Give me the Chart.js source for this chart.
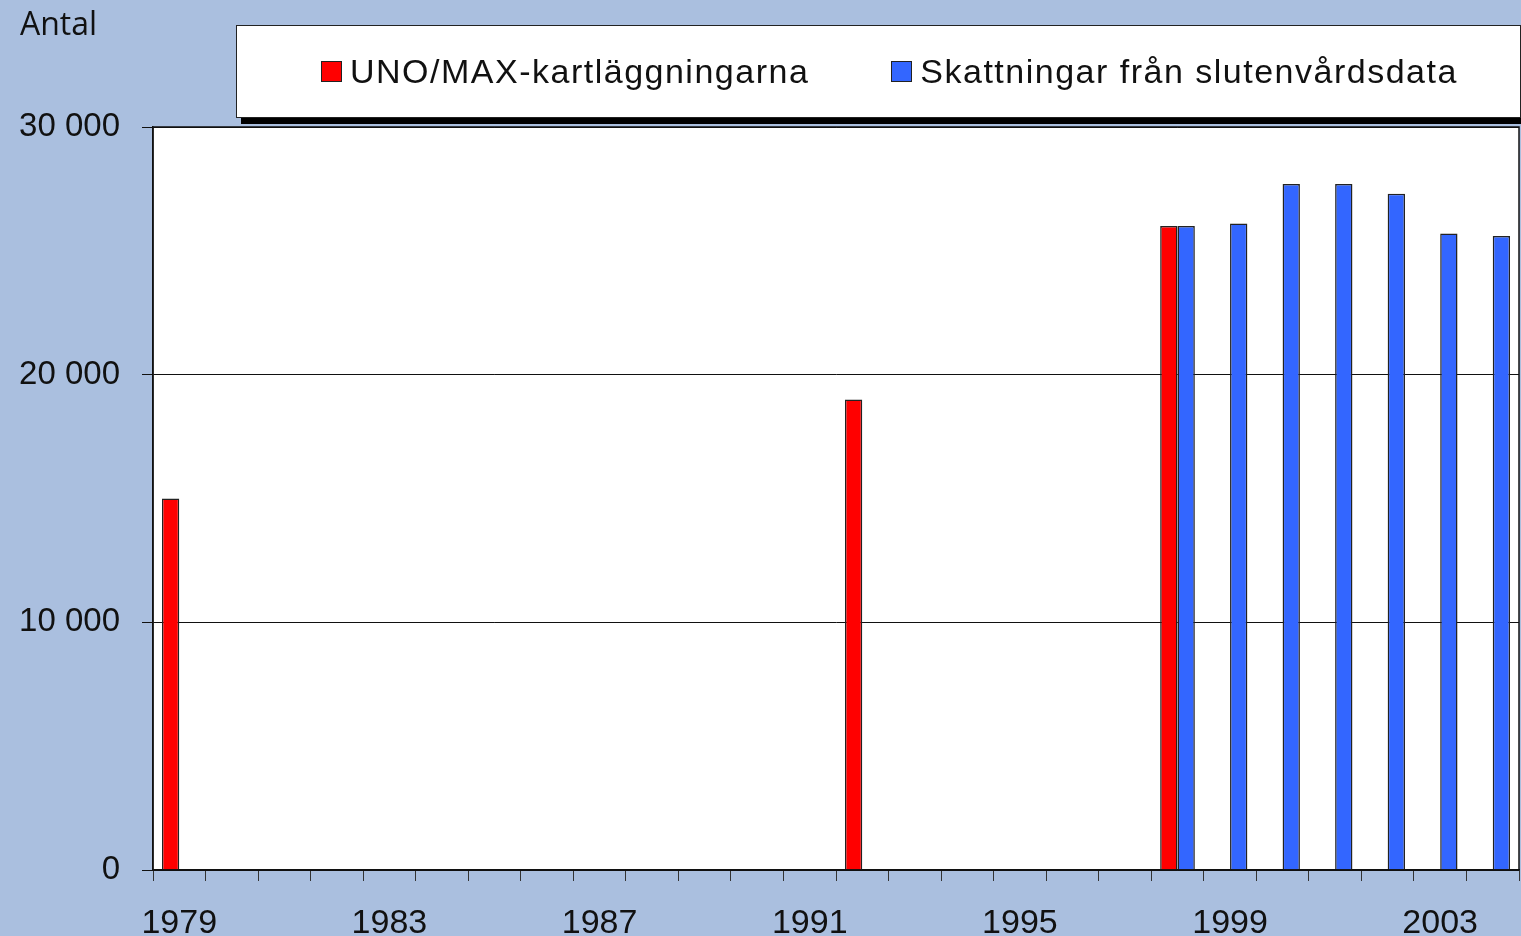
<!DOCTYPE html>
<html>
<head>
<meta charset="utf-8">
<script src="https://cdn.jsdelivr.net/npm/chart.js@4.4.1/dist/chart.umd.min.js"></script>
<style>
  html, body { margin: 0; padding: 0; background: #aabfdf; }
  #wrap { position: relative; width: 1521px; height: 936px; overflow: hidden; }
  #antal { position: absolute; left: 20px; top: 1px; font: 32px "Open Sans", sans-serif; color: #111; }
  #legend {
    position: absolute; left: 236px; top: 25px; width: 1285px; height: 93px; box-sizing: border-box;
    background: #fff; border: 1px solid #222; box-shadow: 5px 6px 0 #000;
    display: flex; align-items: center; padding-left: 84px; gap: 82px;
  }
  .item { display: flex; align-items: center; font: 34px "Liberation Sans", Arial, sans-serif; letter-spacing: 1.5px; color: #111; }
  .sw { width: 19px; height: 19px; border: 1px solid #222; margin-right: 8px; }
  canvas { position: absolute; left: 0; top: 0; }
</style>
</head>
<body>
<div id="wrap">
  <canvas id="c" width="1521" height="936"></canvas>
  <div id="antal">Antal</div>
  <div id="legend"></div>
</div>
<script>
const years = ["1979","1980","1981","1982","1983","1984","1985","1986","1987","1988","1989","1990",
  "1991","1992","1993","1994","1995","1996","1997","1998","1999","2000","2001","2002","2003","2004"];
const unoMax = [15000,null,null,null,null,null,null,null,null,null,null,null,
  null,19000,null,null,null,null,null,26000,null,null,null,null,null,null];
const skattningar = [null,null,null,null,null,null,null,null,null,null,null,null,
  null,null,null,null,null,null,null,26000,26100,27700,27700,27300,25700,25600];
const seriesNames = ["UNO/MAX-kartläggningarna", "Skattningar från slutenvårdsdata"];
const yTicks = [0, 10000, 20000, 30000];

const fmtNum = v => String(v).replace(/\B(?=(\d{3})+(?!\d))/g, " ");

const plotFrame = {
  id: "plotFrame",
  beforeDraw(chart) {
    const a = chart.chartArea, ctx = chart.ctx;
    ctx.save();
    ctx.fillStyle = "#fff";
    ctx.fillRect(a.left, a.top, a.right - a.left, a.bottom - a.top);
    ctx.restore();
  },
  afterDraw(chart) {
    const a = chart.chartArea, ctx = chart.ctx;
    ctx.save();
    ctx.strokeStyle = "#111";
    ctx.lineWidth = 1.5;
    ctx.strokeRect(a.left, a.top, a.right - a.left, a.bottom - a.top);
    ctx.restore();
  }
};

const chart = new Chart(document.getElementById("c"), {
  type: "bar",
  data: {
    labels: years,
    datasets: [
      { label: seriesNames[0], data: unoMax, backgroundColor: "#ff0000", borderColor: "#222", borderWidth: 1.5 },
      { label: seriesNames[1], data: skattningar, backgroundColor: "#3366ff", borderColor: "#222", borderWidth: 1.5 }
    ]
  },
  options: {
    responsive: false,
    animation: false,
    categoryPercentage: 0.66,
    barPercentage: 1.0,
    layout: { padding: { left: 0, right: 2, top: 127, bottom: 0 } },
    plugins: { legend: { display: false }, tooltip: { enabled: false } },
    scales: {
      x: {
        offset: true,
        grid: { offset: true, drawOnChartArea: false, drawTicks: true, tickLength: 11, color: "#333" },
        border: { color: "#111", width: 1.5 },
        ticks: {
          autoSkip: false, maxRotation: 0, padding: 22, color: "#111",
          font: { family: "'Liberation Sans', Arial, sans-serif", size: 34 },
          callback: (v, i) => i % 4 === 0 ? years[i] : ""
        },
        afterFit: s => { s.height = 66; }
      },
      y: {
        min: 0, max: 30000,
        afterBuildTicks: s => { s.ticks = yTicks.map(v => ({ value: v })); },
        grid: { color: "#111", lineWidth: 1, tickLength: 11, drawTicks: true },
        border: { color: "#111", width: 1.5 },
        ticks: {
          padding: 22, color: "#111",
          font: { family: "'Liberation Sans', Arial, sans-serif", size: 33 },
          callback: v => fmtNum(v)
        },
        afterFit: s => { s.width = 153; }
      }
    }
  },
  plugins: [plotFrame]
});

document.getElementById("legend").innerHTML = chart.data.datasets.map(d =>
  `<div class="item"><span class="sw" style="background:${d.backgroundColor}"></span>${d.label}</div>`
).join("");
</script>
</body>
</html>
